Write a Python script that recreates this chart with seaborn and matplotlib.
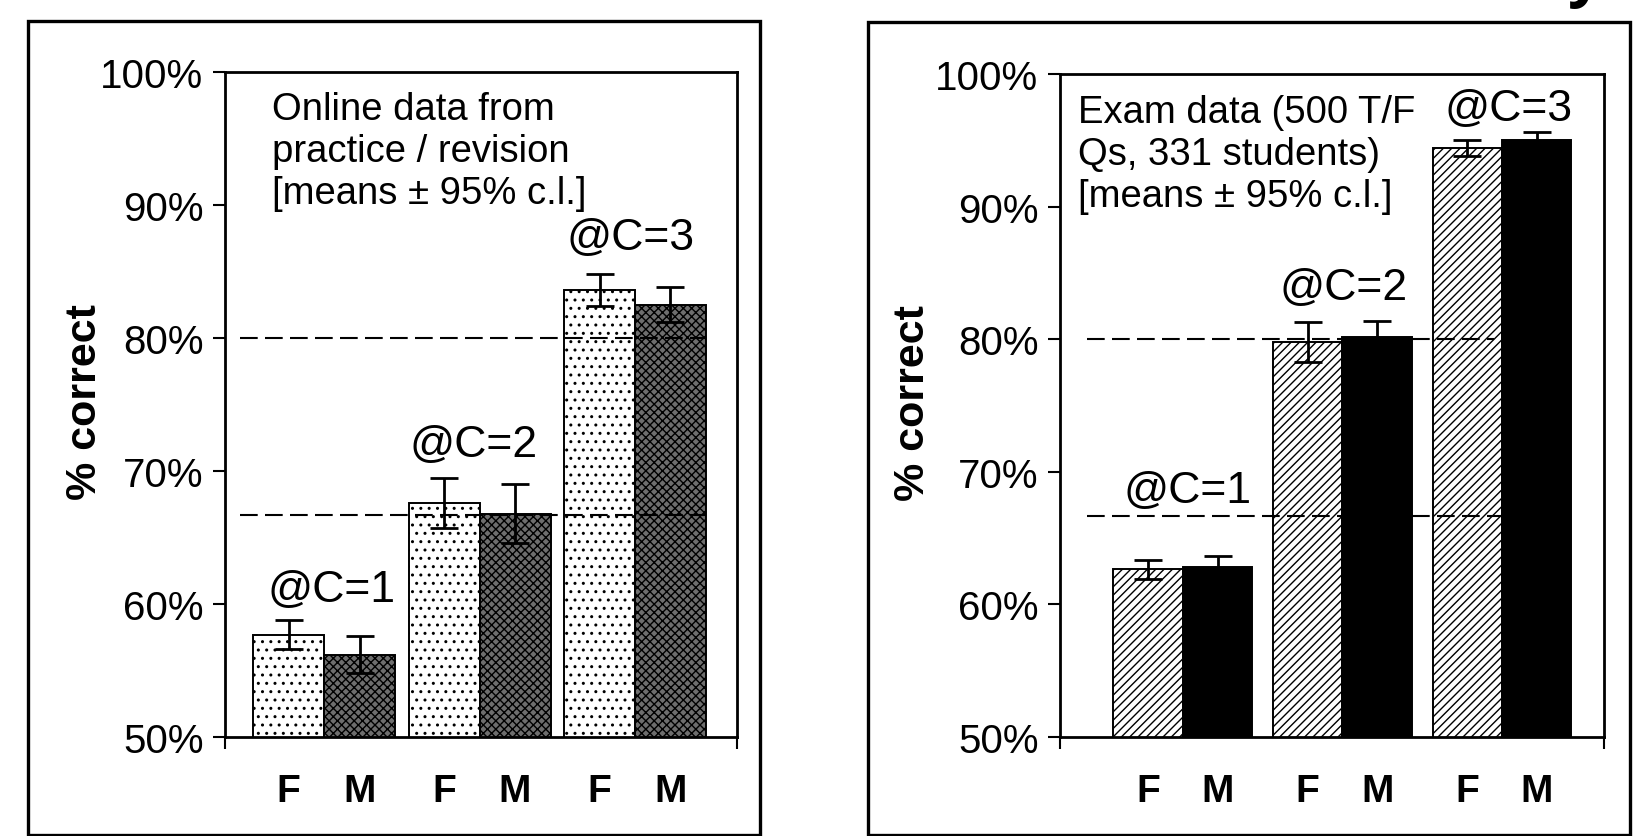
import numpy as np
import pandas as pd
import matplotlib
matplotlib.use("Agg")
import matplotlib.pyplot as plt
import seaborn as sns
from matplotlib.patches import Rectangle
from matplotlib.ticker import FuncFormatter

# ---------------- data ----------------
groups = ["@C=1", "@C=2", "@C=3"]
sexes = ["F", "M"]

online_F = [57.7, 67.6, 83.6]
online_M = [56.2, 66.8, 82.5]
online_F_ci = [1.1, 1.85, 1.2]
online_M_ci = [1.4, 2.2, 1.3]

exam_F = [62.65, 79.8, 94.4]
exam_M = [62.85, 80.2, 95.05]
exam_F_ci = [0.7, 1.5, 0.6]
exam_M_ci = [0.8, 1.2, 0.55]

chance_levels = [200 / 3, 80]
y_ticks = [50, 60, 70, 80, 90, 100]
online_note = "Online data from\npractice / revision\n[means \u00b1 95% c.l.]"
exam_note = "Exam data (500 T/F\nQs, 331 students)\n[means \u00b1 95% c.l.]"
y_label = "% correct"

# ---------------- style ----------------
sns.set_style("white")
plt.rcParams["font.family"] = ["Liberation Sans", "DejaVu Sans"]
plt.rcParams["hatch.linewidth"] = 1.0
plt.rcParams["text.color"] = "black"
plt.rcParams["axes.labelcolor"] = "black"
plt.rcParams["xtick.color"] = "black"
plt.rcParams["ytick.color"] = "black"
plt.rcParams["xtick.labelcolor"] = "black"
plt.rcParams["ytick.labelcolor"] = "black"

W, H = 1636, 837
fig = plt.figure(figsize=(W / 100, H / 100), dpi=100)


def fx(px):
    return px / W


def fy(py):
    return 1 - py / H


axL = fig.add_axes([fx(225), fy(738), fx(737) - fx(225), fy(73) - fy(738)])
axR = fig.add_axes([fx(1060), fy(738), fx(1604) - fx(1060), fy(75) - fy(738)])

# outer frames
for x0, y0, x1, y1 in [(28, 22, 760, 836), (868, 23, 1630, 836)]:
    fig.add_artist(Rectangle((fx(x0), fy(y1)), fx(x1) - fx(x0), fy(y0) - fy(y1),
                             transform=fig.transFigure, fill=False,
                             edgecolor="black", linewidth=2.4))


def panel(ax, F, M, Fci, Mci, width, xlim, colors, hatches, note, note_xy,
          lbl_x, lbl_y, dash_spans, ylab_x):
    df = pd.DataFrame({
        "group": groups * 2,
        "sex": ["F"] * 3 + ["M"] * 3,
        "pct": F + M,
        "ci": Fci + Mci,
    })
    sns.barplot(data=df, x="group", y="pct", hue="sex", order=groups,
                hue_order=sexes, width=width, gap=0, palette=colors,
                saturation=1, edgecolor="black", linewidth=1.4,
                errorbar=None, legend=False, ax=ax, zorder=2)
    centers, vals, errs, labels = [], [], [], []
    right_edge = -np.inf
    for cont, sex in zip(ax.containers, sexes):
        sub = df[df["sex"] == sex]
        bars = sorted(cont.patches, key=lambda p: p.get_x())
        for bar, (_, row) in zip(bars, sub.iterrows()):
            bar.set_hatch(hatches[sex])
            centers.append(bar.get_x() + bar.get_width() / 2)
            right_edge = max(right_edge, bar.get_x() + bar.get_width())
            vals.append(row["pct"])
            errs.append(row["ci"])
            labels.append(sex)
    ax.errorbar(centers, vals, yerr=errs, fmt="none", ecolor="black",
                elinewidth=2, capsize=10, capthick=2, zorder=5)

    # chance lines
    for lvl, (x0, x1) in zip(chance_levels, dash_spans):
        if x1 is None:
            x1 = right_edge
        ax.hlines(lvl, x0, x1, colors="black", linewidth=1.5,
                  linestyles=(0, (8.5, 3.5)), zorder=4)

    ax.set_xlim(*xlim)
    ax.set_ylim(50, 100)
    order = np.argsort(centers)
    ax.set_xticks([centers[i] for i in order])
    ax.set_xticklabels([labels[i] for i in order], fontsize=28,
                       fontweight="bold", color="black")
    ax.tick_params(axis="x", which="major", length=0, pad=26)
    ax.set_xticks([xlim[0], xlim[1]], minor=True)
    ax.tick_params(axis="x", which="minor", length=8.5, width=1.5,
                   direction="out", bottom=True, color="black")
    ax.set_yticks(y_ticks)
    ax.yaxis.set_major_formatter(FuncFormatter(lambda v, p: f"{v:.0f}%"))
    ax.tick_params(axis="y", length=8.5, width=1.5, direction="out",
                   left=True, pad=7, labelsize=29, color="black",
                   labelcolor="black")
    ax.set_xlabel("")
    ax.set_ylabel(y_label, fontsize=31, fontweight="bold", color="black")
    ax.yaxis.label.set_verticalalignment("center")
    ax.yaxis.set_label_coords(ylab_x, 0.505)
    for s in ax.spines.values():
        s.set_visible(True)
        s.set_color("black")
        s.set_linewidth(2)

    ax.text(note_xy[0], note_xy[1], note, transform=ax.transAxes,
            ha="left", va="top", fontsize=27.5, linespacing=1.22,
            color="black", zorder=6)
    for g, (gx, gy) in enumerate(zip(lbl_x, lbl_y)):
        ax.text(g + gx, gy, groups[g], ha="center", va="baseline",
                fontsize=32, color="black", zorder=6)


panel(axL, online_F, online_M, online_F_ci, online_M_ci,
      width=0.913, xlim=(-0.637, 2.656),
      colors={"F": "white", "M": "#6e6e6e"},
      hatches={"F": "..", "M": "xxxx"},
      note=online_note, note_xy=(0.092, 0.972),
      lbl_x=[0.05, -0.04, -0.03], lbl_y=[60.2, 71.1, 86.7],
      dash_spans=[(-0.54, None), (-0.54, None)], ylab_x=-0.274)

panel(axR, exam_F, exam_M, exam_F_ci, exam_M_ci,
      width=0.87, xlim=(-0.77, 2.64),
      colors={"F": "white", "M": "black"},
      hatches={"F": "////", "M": ""},
      note=exam_note, note_xy=(0.033, 0.970),
      lbl_x=[0.03, 0.01, 0.04], lbl_y=[67.7, 83.0, 96.5],
      dash_spans=[(-0.60, 2.0), (-0.60, 1.95)], ylab_x=-0.270)

# clipped glyph of the slide title above the frames
fig.text(fx(1585), 1 + 6 / H, "y", fontsize=44, fontweight="bold",
         ha="center", va="baseline", color="black",
         family=["Open Sans", "DejaVu Sans"])

fig.savefig("out.png", dpi=100)
